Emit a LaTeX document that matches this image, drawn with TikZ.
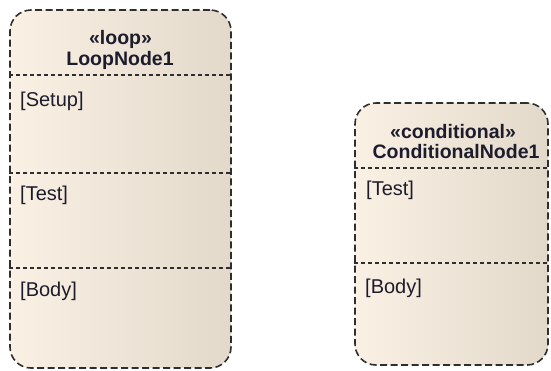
\documentclass[tikz,border=0pt]{standalone}
\usepackage{fontspec}
\setmainfont{Liberation Sans}
\definecolor{cream}{HTML}{FAF0E3}
\definecolor{tan}{HTML}{E2D9CB}
\definecolor{edge}{HTML}{2E2E2E}
\definecolor{txt}{HTML}{1C1C2C}
\tikzset{
  actnode/.style={draw=edge, line width=1.6pt, dash pattern=on 7pt off 3.5pt,
    rounded corners=21pt, rectangle, inner sep=0pt,
    left color=cream, middle color=cream, right color=tan},
  sep/.style={draw=edge, line width=1.2pt, dash pattern=on 4pt off 3pt},
  title/.style={anchor=base, inner sep=0pt, text=txt, font=\fontsize{19.5}{21}\selectfont\bfseries},
  lbl/.style={anchor=base west, inner sep=0pt, text=txt, font=\fontsize{20}{22}\selectfont}
}
\begin{document}
\begin{tikzpicture}[x=1pt,y=-1pt]
\useasboundingbox (0,0) rectangle (551,370);
\fill[white] (0,0) rectangle (551,370);
% Loop node
\node[actnode, minimum width=221pt, minimum height=358pt] (loop) at (120.5,189) {};
\draw[sep] (loop.west |- 0,75) -- (loop.east |- 0,75);
\draw[sep] (loop.west |- 0,173) -- (loop.east |- 0,173);
\draw[sep] (loop.west |- 0,268) -- (loop.east |- 0,268);
\node[title] (loopst) at (120.5,44) {«loop»};
\node[title] (loopnm) at (120,65) {LoopNode1};
\node[lbl] (setup) at (20,106) {[Setup]};
\node[lbl] (ltest) at (20,200) {[Test]};
\node[lbl] (lbody) at (20,296) {[Body]};
% Conditional node
\node[actnode, minimum width=193pt, minimum height=262pt] (cond) at (451.5,234) {};
\draw[sep] (cond.west |- 0,168) -- (cond.east |- 0,168);
\draw[sep] (cond.west |- 0,263) -- (cond.east |- 0,263);
\node[title] (condst) at (453,138) {«conditional»};
\node[title] (condnm) at (456,158) {ConditionalNode1};
\node[lbl] (ctest) at (366,195) {[Test]};
\node[lbl] (cbody) at (365,293) {[Body]};
\end{tikzpicture}
\end{document}
